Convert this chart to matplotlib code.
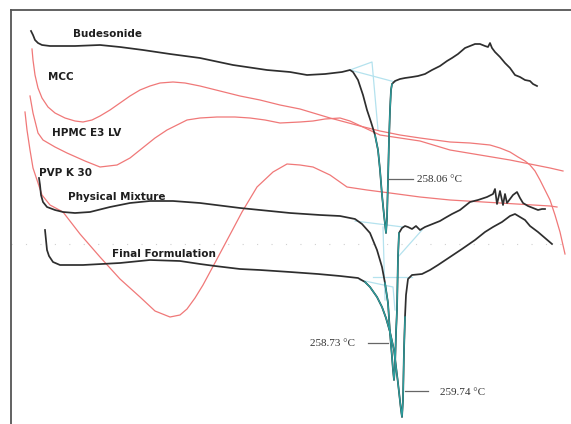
import matplotlib.pyplot as plt

# DSC thermograms, traced in image units (x ~ temperature axis, y ~ heat flow, downward = endotherm)
bud_x = [31, 33, 35, 38, 42, 50, 75, 100, 120, 143, 170, 200, 233, 267, 290, 307, 325, 342, 350, 353,
         358, 363, 367, 371, 375, 378, 380, 382, 384, 386, 387, 388, 389, 390, 391, 392, 395, 400, 405,
         412, 418, 425, 432, 440, 447, 452, 458, 465, 470, 475, 480, 485, 488, 490, 492, 495, 500, 505,
         510, 515, 520, 525, 530, 533, 537]
bud_y = [31, 35, 40, 43, 45, 46, 46, 45, 47, 50, 54, 58, 65, 70, 72, 75, 74, 72, 70, 72,
         80, 95, 110, 122, 135, 150, 170, 195, 215, 233, 218, 180, 140, 110, 90, 84, 81, 79, 78,
         77, 76, 74, 70, 66, 61, 58, 54, 48, 46, 44, 44, 46, 47, 43, 48, 52, 57, 63,
         68, 75, 77, 80, 81, 84, 86]

mcc_x = [32, 33, 35, 38, 42, 48, 55, 65, 75, 83, 92, 100, 110, 120, 130, 140, 150, 160, 173, 185,
         200, 220, 240, 260, 280, 300, 330, 360, 380, 400, 420, 450, 470, 490, 500, 510, 518, 525,
         530, 535, 540, 545, 550, 555, 560, 565]
mcc_y = [49, 60, 75, 88, 98, 107, 113, 118, 121, 122, 120, 116, 110, 103, 96, 90, 86, 83, 82, 83,
         86, 91, 96, 100, 105, 109, 118, 126, 131, 135, 138, 142, 143, 145, 148, 152, 157, 161,
         165, 171, 180, 190, 200, 215, 232, 254]

hpmc_x = [30, 33, 38, 43, 55, 67, 85, 100, 117, 130, 140, 155, 167, 187, 200, 217, 235, 250, 265,
          280, 300, 313, 325, 340, 350, 365, 380, 400, 420, 450, 480, 510, 530, 550, 563]
hpmc_y = [96, 113, 133, 140, 147, 153, 161, 167, 165, 158, 150, 138, 130, 120, 118, 117, 117, 118, 120,
          123, 122, 121, 119, 118, 121, 128, 135, 138, 141, 150, 155, 160, 164, 168, 171]

pvp_x = [25, 27, 30, 33, 37, 42, 50, 63, 80, 100, 120, 140, 155, 170, 180, 187, 195, 203, 217, 233,
         242, 257, 273, 287, 300, 313, 330, 347, 367, 390, 420, 450, 500, 550, 557]
pvp_y = [112, 130, 150, 168, 180, 195, 205, 212, 234, 257, 279, 297, 311, 317, 315, 309, 298, 285, 259, 229,
         212, 187, 172, 164, 165, 167, 175, 187, 190, 193, 197, 200, 203, 206, 207]

pm_x = [39, 40, 41, 43, 47, 55, 63, 75, 90, 110, 130, 150, 173, 200, 240, 270, 290, 320, 340, 355,
        362, 370, 377, 382, 385, 388, 390, 392, 393, 394, 395, 396, 397, 398, 399, 402, 405, 408,
        412, 416, 420, 425, 430, 435, 440, 445, 452, 460, 470, 478, 487, 493, 495, 497, 500, 503,
        505, 507, 510, 513, 517, 520, 523, 528, 533, 538, 542, 545]
pm_y = [178, 185, 195, 202, 207, 210, 212, 213, 212, 207, 203, 201, 201, 203, 208, 211, 213, 215, 216, 219,
        224, 233, 250, 267, 283, 303, 333, 357, 370, 380, 367, 333, 310, 257, 233, 228, 226, 227,
        229, 226, 230, 227, 225, 223, 221, 218, 214, 210, 202, 200, 197, 194, 189, 204, 191, 205,
        194, 203, 199, 195, 192, 198, 203, 206, 208, 210, 209, 209]

ff_x = [45, 46, 47, 49, 53, 60, 83, 120, 150, 180, 200, 215, 240, 260, 290, 318, 340, 358, 365,
        370, 377, 382, 386, 390, 394, 398, 401, 402, 403, 404, 405, 406, 408, 412, 422, 430, 438,
        450, 462, 475, 485, 493, 502, 510, 515, 520, 525, 530, 538, 545, 552]
ff_y = [230, 240, 250, 256, 262, 265, 265, 263, 260, 261, 264, 266, 269, 270, 272, 274, 276, 278, 282,
        287, 297, 307, 318, 332, 350, 383, 410, 417, 400, 350, 317, 295, 279, 275, 274, 270, 265,
        257, 249, 240, 232, 227, 222, 216, 214, 217, 220, 226, 232, 238, 244]

# onset / peak construction lines of the analysis software
tangents = [
    ([350, 372, 378], [70, 62, 130]),
    ([350, 395], [70, 82]),
    ([355, 403], [221, 227]),
    ([383, 385], [227, 300]),
    ([398, 422], [257, 230]),
    ([360, 393, 395], [280, 287, 310]),
    ([373, 412], [277, 277]),
]

curve_names = ['Budesonide', 'MCC', 'HPMC E3 LV', 'PVP K 30', 'Physical Mixture', 'Final Formulation']
name_pos = [(73, 34), (48, 77), (52, 133), (39, 173), (68, 197), (112, 254)]

peak_labels = ['258.06 °C', '258.73 °C', '259.74 °C']
peak_leaders = [([388, 413], [179, 179]), ([368, 388], [343, 343]), ([405, 428], [391, 391])]
peak_text_pos = [(417, 179), (310, 343), (440, 392)]

black = '#2e2e2e'
red = '#f07878'
teal = '#2b9e9e'
light = '#b4e2ee'

fig = plt.figure(figsize=(5.71, 4.24), dpi=100)
ax = fig.add_axes([11 / 571, 0, 560 / 571, 414 / 424])
ax.set_xlim(11, 571)
ax.set_ylim(424, 10)
ax.set_xticks([])
ax.set_yticks([])
for s in ['right', 'bottom']:
    ax.spines[s].set_visible(False)
for s in ['left', 'top']:
    ax.spines[s].set_color('#555555')
    ax.spines[s].set_linewidth(1.3)

# faint dotted baseline grid from the original scan
ax.axhline(244, color='#d0d0d0', lw=0.8, ls=(0, (1, 12)))

for tx, ty in tangents:
    ax.plot(tx, ty, color=light, lw=0.9)

ax.plot(mcc_x, mcc_y, color=red, lw=0.9)
ax.plot(hpmc_x, hpmc_y, color=red, lw=0.9)
ax.plot(pvp_x, pvp_y, color=red, lw=0.9)

ax.plot(bud_x, bud_y, color=black, lw=1.25)
ax.plot(pm_x, pm_y, color=black, lw=1.25)
ax.plot(ff_x, ff_y, color=black, lw=1.25)

# teal highlight over the peak flanks
ax.plot(bud_x[24:36], bud_y[24:36], color=teal, lw=1.0)
ax.plot(pm_x[24:35], pm_y[24:35], color=teal, lw=1.0)
ax.plot(ff_x[18:31], ff_y[18:31], color=teal, lw=1.0)

for name, (x, y) in zip(curve_names, name_pos):
    ax.text(x, y, name, fontsize=7.5, fontweight='bold', color='#1e1e1e', ha='left', va='center')

for lab, (lx, ly), (x, y) in zip(peak_labels, peak_leaders, peak_text_pos):
    ax.plot(lx, ly, color='#666666', lw=0.9)
    ax.text(x, y, lab, fontsize=8, family='Liberation Serif', color='#333333', ha='left', va='center')

fig.savefig('out.png', dpi=100)
